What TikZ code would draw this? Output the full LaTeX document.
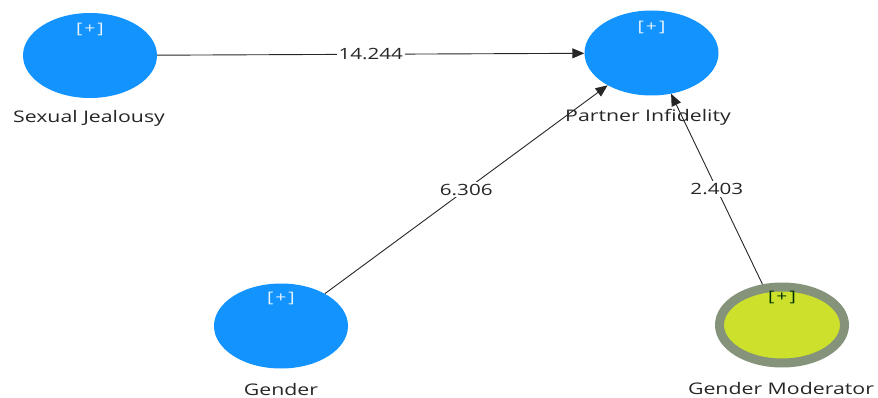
\documentclass[tikz,border=0pt]{standalone}
\usepackage{fontspec}
\setmainfont{Open Sans}
\usetikzlibrary{shapes.geometric,arrows.meta,calc}
\definecolor{lvblue}{HTML}{1393FE}
\definecolor{modfill}{HTML}{CDE02C}
\definecolor{modring}{HTML}{84937A}
\definecolor{txt}{HTML}{262626}
\newcommand{\wide}[1]{\scalebox{1.33}[1]{#1}}
\begin{document}
\begin{tikzpicture}[x=1pt,y=-1pt,
  lv/.style={ellipse,fill=lvblue,minimum width=134pt,minimum height=85pt,inner sep=0pt},
  mod/.style={ellipse,fill=modfill,draw=modring,line width=9pt,minimum width=125pt,minimum height=76pt,inner sep=0pt},
  lbl/.style={font=\fontsize{16}{16}\selectfont,text=txt,inner sep=0pt},
  plus/.style={font=\fontsize{14.5}{14.5}\selectfont,inner sep=0pt},
  path/.style={draw=black!85,line width=0.9pt,-{Triangle[length=12pt,width=10pt]}},
  val/.style={font=\fontsize{15.5}{15.5}\selectfont,text=txt,fill=white,inner sep=2pt}]
\useasboundingbox (0,0) rectangle (878,398);
\node[lv] (sj) at (90,55.5) {};
\node[lv] (pi) at (651.5,53) {};
\node[lv] (g) at (281,326) {};
\node[mod] (gm) at (782,325) {};
\node[plus,text=white!90!lvblue] (sjp) at (90,29) {\wide{[\hspace{1.5pt}+\hspace{1.5pt}]}};
\node[plus,text=white!90!lvblue] (pip) at (651.5,27) {\wide{[\hspace{1.5pt}+\hspace{1.5pt}]}};
\node[plus,text=white!90!lvblue] (gp) at (281,298) {\wide{[\hspace{1.5pt}+\hspace{1.5pt}]}};
\node[plus,text=black!80!green] (gmp) at (782,297) {\wide{[\hspace{1.5pt}+\hspace{1.5pt}]}};
\node[lbl] (sjl) at (89,118) {\wide{Sexual Jealousy}};
\node[lbl] (pil) at (648,117) {\wide{Partner Infidelity}};
\node[lbl] (gl) at (281,389) {\wide{Gender}};
\node[lbl] (gml) at (781,388) {\wide{Gender Moderator}};
\draw[path] (sj) -- node[val] {\wide{14.244}} (pi);
\draw[path] (g) -- node[val] {\wide{6.306}} (pi);
\draw[path] (gm) -- node[val] {\wide{2.403}} (pi);
\end{tikzpicture}
\end{document}
